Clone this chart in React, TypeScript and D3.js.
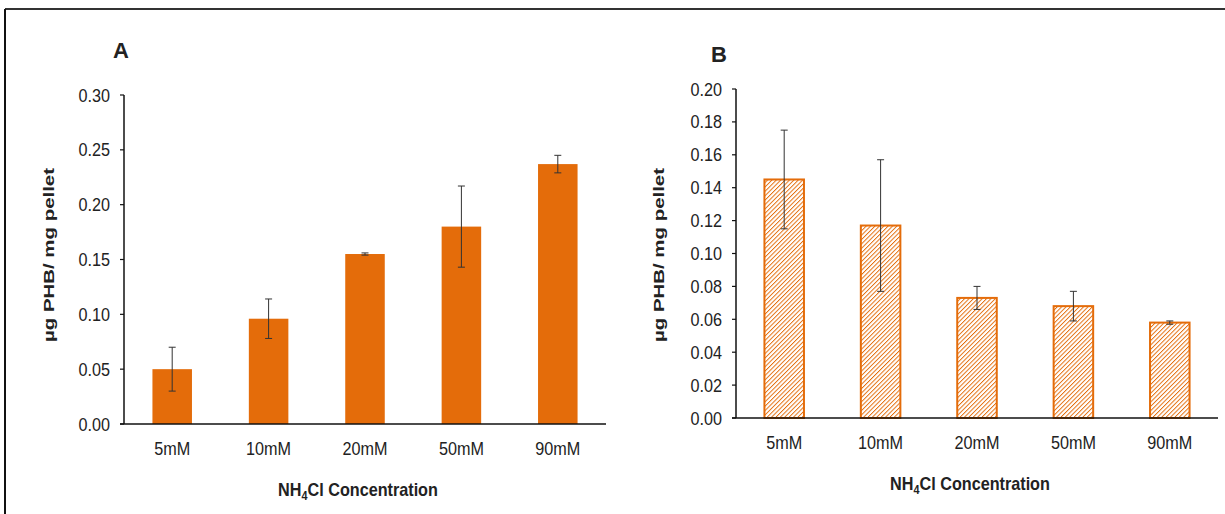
import * as d3 from "d3";

const categories = ["5mM", "10mM", "20mM", "50mM", "90mM"];
const valuesA = [0.05, 0.096, 0.155, 0.18, 0.237];
const errorsA = [0.02, 0.018, 0.001, 0.037, 0.008];
const valuesB = [0.145, 0.117, 0.073, 0.068, 0.058];
const errorsB = [0.03, 0.04, 0.007, 0.009, 0.001];
const ticksA = [0, 0.05, 0.1, 0.15, 0.2, 0.25, 0.3];
const ticksB = [0, 0.02, 0.04, 0.06, 0.08, 0.1, 0.12, 0.14, 0.16, 0.18, 0.2];

const ORANGE = "#E46C0A";
const FONT = "'Liberation Sans', Arial, sans-serif";
const SQ = 0.9; // horizontal squeeze of the original text

const Txt = ({ x, y, size, anchor = "middle", bold = false, children, sx = SQ }: any) => (
  <text
    transform={`translate(${x},${y}) scale(${sx},1)`}
    fontFamily={FONT}
    fontSize={size}
    fontWeight={bold ? "bold" : "normal"}
    textAnchor={anchor}
    fill="#222"
  >
    {children}
  </text>
);

const Panel = ({ letter, values, errors, ticks, left, right, top, bottom, hatched, id, ylabX }: any) => {
  const x = d3.scaleBand().domain(categories).range([left, right]).paddingInner(0.59).paddingOuter(0.295);
  const y = d3.scaleLinear().domain([0, ticks[ticks.length - 1]]).range([bottom, top]);
  const fmt = d3.format(".2f");
  const mid = (left + right) / 2;
  return (
    <g>
      {hatched && (
        <defs>
          <pattern id={id} width={3.1} height={3.1} patternUnits="userSpaceOnUse" patternTransform="rotate(45)">
            <rect width={3.1} height={3.1} fill="#fff" />
            <line x1={0} y1={0} x2={0} y2={3.1} stroke={ORANGE} strokeWidth={1.9} />
          </pattern>
        </defs>
      )}
      {categories.map((c, i) => (
        <rect
          key={c}
          x={x(c)}
          y={y(values[i])}
          width={x.bandwidth()}
          height={y(0) - y(values[i])}
          fill={hatched ? `url(#${id})` : ORANGE}
          stroke={hatched ? ORANGE : "none"}
          strokeWidth={2}
        />
      ))}
      {categories.map((c, i) => {
        const cx = (x(c) as number) + x.bandwidth() / 2;
        const y1 = y(values[i] + errors[i]);
        const y2 = y(values[i] - errors[i]);
        return (
          <g key={c} stroke="#333" strokeWidth={1}>
            <line x1={cx} x2={cx} y1={y1} y2={y2} />
            <line x1={cx - 3.5} x2={cx + 3.5} y1={y1} y2={y1} />
            <line x1={cx - 3.5} x2={cx + 3.5} y1={y2} y2={y2} />
          </g>
        );
      })}
      <line x1={left} x2={left} y1={top} y2={bottom} stroke="#111" strokeWidth={1.5} />
      <line x1={left - 4} x2={right} y1={bottom} y2={bottom} stroke="#111" strokeWidth={1.5} />
      {ticks.map((t: number) => (
        <g key={t}>
          <line x1={left - 4} x2={left} y1={y(t)} y2={y(t)} stroke="#111" strokeWidth={1.2} />
          <Txt x={left - 14} y={y(t) + 6.5} size={18} anchor="end">
            {fmt(t)}
          </Txt>
        </g>
      ))}
      {categories.map((c) => (
        <Txt key={c} x={(x(c) as number) + x.bandwidth() / 2} y={bottom + 30.5} size={18}>
          {c}
        </Txt>
      ))}
      <Txt x={mid - 7} y={bottom + 72} size={18} bold>
        NH<tspan fontSize={12} dy={4}>4</tspan>
        <tspan dy={-4}>Cl Concentration</tspan>
      </Txt>
      <text
        transform={`translate(${ylabX},255) rotate(-90) scale(1,0.8)`}
        fontFamily={FONT}
        fontSize={18}
        fontWeight="bold"
        textAnchor="middle"
        textLength={174}
        lengthAdjust="spacingAndGlyphs"
        fill="#222"
      >
        µg PHB/ mg pellet
      </text>
      <Txt x={letter.x} y={letter.y} size={22} bold anchor="start" sx={1}>
        {letter.text}
      </Txt>
    </g>
  );
};

export default function App() {
  return (
    <svg
      width={1225}
      height={514}
      style={{ position: "absolute", left: 0, top: 0, background: "#fff" }}
    >
      <rect width={1225} height={514} fill="#fff" />
      <line x1={5} x2={1225} y1={9} y2={9} stroke="#333" strokeWidth={2} />
      <line x1={5} x2={5} y1={9} y2={514} stroke="#111" strokeWidth={2} />
      <Panel
        id="hA"
        letter={{ text: "A", x: 113, y: 58 }}
        values={valuesA}
        errors={errorsA}
        ticks={ticksA}
        left={124}
        right={606}
        top={95}
        bottom={424}
        hatched={false}
        ylabX={54}
      />
      <Panel
        id="hB"
        letter={{ text: "B", x: 711, y: 62 }}
        values={valuesB}
        errors={errorsB}
        ticks={ticksB}
        left={736}
        right={1218}
        top={89}
        bottom={418}
        hatched={true}
        ylabX={664}
      />
    </svg>
  );
}
